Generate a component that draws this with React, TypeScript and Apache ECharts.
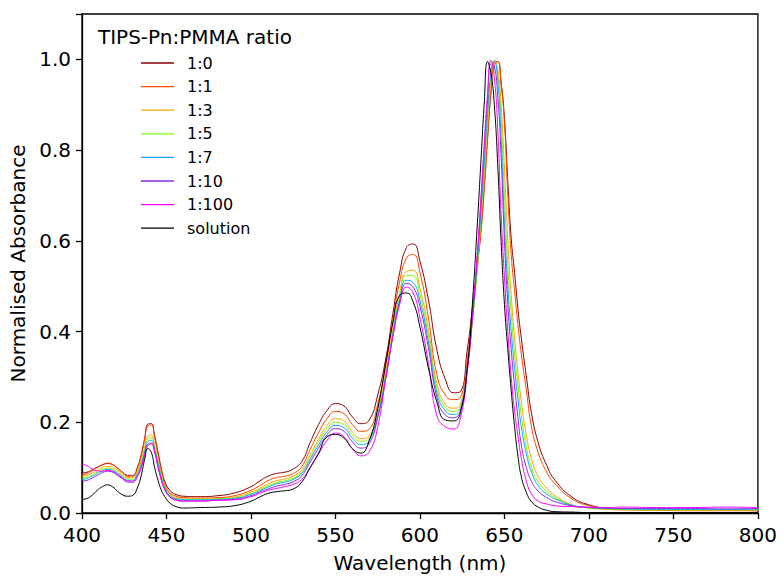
import React, { useEffect, useRef } from "react";
import * as echarts from "echarts";

const wavelengths = [400,403,406,409,412,415,418,421,424,427,430,433,435,437,439,441,443,445,447,449,452,455,460,470,480,490,500,505,510,515,520,525,530,535,540,545,550,555,560,565,570,575,580,584,588,592,596,600,605,610,615,620,624,628,631,634,636,638,640,642,644,646,648,650,652,654,656,658,660,663,666,670,675,680,690,700,710,720,740,760,780,800];

const ratio1to0 = [0.088,0.09,0.095,0.101,0.106,0.109,0.107,0.099,0.09,0.083,
  0.083,0.103,0.128,0.163,0.196,0.197,0.17,0.134,0.097,0.07,
  0.05,0.042,0.037,0.036,0.038,0.044,0.058,0.07,0.081,0.087,
  0.09,0.097,0.113,0.155,0.195,0.226,0.241,0.236,0.212,0.197,
  0.205,0.26,0.345,0.44,0.53,0.585,0.593,0.555,0.47,0.36,
  0.295,0.265,0.268,0.36,0.45,0.55,0.62,0.72,0.83,0.93,
  0.995,0.995,0.95,0.87,0.73,0.605,0.53,0.45,0.385,0.3,
  0.22,0.155,0.105,0.072,0.035,0.018,0.011,0.009,0.007,0.006,
  0.006,0.005];
const ratio1to1 = [0.084,0.087,0.093,0.1,0.106,0.11,0.107,0.099,0.089,0.081,
  0.081,0.1,0.125,0.16,0.192,0.194,0.166,0.129,0.092,0.064,
  0.045,0.038,0.034,0.033,0.034,0.038,0.05,0.06,0.071,0.078,
  0.081,0.087,0.102,0.14,0.177,0.208,0.224,0.219,0.195,0.18,
  0.185,0.24,0.33,0.425,0.51,0.562,0.57,0.53,0.43,0.305,
  0.26,0.25,0.255,0.34,0.44,0.545,0.615,0.71,0.82,0.925,
  0.99,0.995,0.945,0.86,0.7,0.57,0.49,0.415,0.35,0.27,
  0.19,0.133,0.09,0.064,0.031,0.016,0.009,0.007,0.006,0.005,
  0.005,0.005];
const ratio1to3 = [0.081,0.083,0.088,0.094,0.1,0.103,0.101,0.094,0.085,0.078,
  0.078,0.094,0.115,0.145,0.17,0.172,0.15,0.117,0.084,0.06,
  0.042,0.035,0.031,0.031,0.032,0.035,0.046,0.054,0.064,0.071,
  0.075,0.081,0.095,0.128,0.163,0.193,0.208,0.203,0.179,0.164,
  0.17,0.225,0.315,0.405,0.485,0.533,0.535,0.495,0.405,0.285,
  0.24,0.231,0.24,0.325,0.425,0.54,0.64,0.74,0.85,0.95,
  0.998,0.98,0.9,0.76,0.6,0.48,0.385,0.31,0.245,0.17,
  0.12,0.08,0.055,0.038,0.018,0.011,0.008,0.007,0.007,0.006,
  0.006,0.006];
const ratio1to5 = [0.077,0.079,0.084,0.09,0.096,0.099,0.097,0.09,0.082,0.075,
  0.075,0.09,0.11,0.139,0.164,0.166,0.145,0.112,0.08,0.057,
  0.04,0.033,0.03,0.03,0.031,0.033,0.043,0.051,0.06,0.067,
  0.071,0.077,0.09,0.122,0.156,0.186,0.2,0.195,0.172,0.158,
  0.165,0.22,0.31,0.4,0.478,0.524,0.523,0.482,0.39,0.275,
  0.232,0.224,0.235,0.32,0.42,0.545,0.65,0.755,0.865,0.96,
  0.998,0.97,0.875,0.7,0.545,0.44,0.35,0.28,0.215,0.145,
  0.1,0.068,0.048,0.034,0.017,0.011,0.009,0.008,0.007,0.007,
  0.007,0.007];
const ratio1to7 = [0.074,0.076,0.081,0.087,0.093,0.096,0.094,0.087,0.079,0.072,
  0.072,0.087,0.106,0.134,0.158,0.16,0.14,0.108,0.077,0.055,
  0.038,0.032,0.029,0.029,0.03,0.032,0.041,0.049,0.057,0.064,
  0.068,0.074,0.087,0.118,0.15,0.179,0.193,0.188,0.165,0.151,
  0.16,0.215,0.305,0.395,0.47,0.513,0.508,0.468,0.378,0.265,
  0.225,0.217,0.23,0.32,0.425,0.555,0.66,0.77,0.88,0.97,
  0.995,0.955,0.83,0.64,0.5,0.4,0.32,0.25,0.19,0.13,
  0.09,0.06,0.042,0.031,0.017,0.012,0.01,0.009,0.008,0.008,
  0.008,0.008];
const ratio1to10 = [0.07,0.072,0.077,0.083,0.089,0.092,0.09,0.083,0.075,0.068,
  0.068,0.082,0.1,0.128,0.152,0.154,0.135,0.103,0.073,0.052,
  0.036,0.03,0.027,0.027,0.028,0.03,0.038,0.046,0.053,0.059,
  0.063,0.069,0.082,0.112,0.143,0.172,0.186,0.18,0.157,0.143,
  0.153,0.21,0.3,0.39,0.465,0.506,0.498,0.455,0.365,0.255,
  0.216,0.21,0.226,0.32,0.43,0.57,0.68,0.8,0.91,0.99,
  0.985,0.92,0.79,0.6,0.46,0.36,0.28,0.21,0.15,0.1,
  0.07,0.048,0.034,0.025,0.016,0.012,0.011,0.01,0.01,0.01,
  0.009,0.01];
const ratio1to100 = [0.108,0.104,0.097,0.093,0.092,0.094,0.092,0.085,0.077,0.071,
  0.07,0.083,0.1,0.126,0.149,0.152,0.133,0.101,0.072,0.051,
  0.035,0.029,0.026,0.026,0.028,0.029,0.036,0.043,0.05,0.054,
  0.058,0.063,0.074,0.1,0.13,0.16,0.176,0.168,0.142,0.126,
  0.135,0.19,0.305,0.39,0.46,0.498,0.485,0.43,0.33,0.215,
  0.19,0.185,0.21,0.31,0.43,0.575,0.69,0.81,0.925,0.998,
  0.96,0.85,0.66,0.52,0.4,0.3,0.225,0.17,0.12,0.07,
  0.042,0.026,0.02,0.016,0.014,0.013,0.012,0.013,0.012,0.012,
  0.013,0.012];
const solution = [0.03,0.032,0.039,0.05,0.058,0.062,0.058,0.048,0.04,0.037,
  0.039,0.058,0.082,0.117,0.142,0.134,0.1,0.072,0.05,0.036,
  0.022,0.015,0.011,0.012,0.013,0.016,0.026,0.035,0.043,0.047,
  0.049,0.053,0.068,0.1,0.132,0.168,0.173,0.165,0.142,0.132,
  0.16,0.23,0.335,0.42,0.48,0.485,0.465,0.41,0.32,0.245,
  0.205,0.203,0.222,0.32,0.46,0.64,0.77,0.9,0.995,0.97,
  0.9,0.77,0.6,0.46,0.36,0.27,0.19,0.125,0.08,0.045,
  0.025,0.013,0.006,0.003,0.002,0.001,0.001,0.001,0.001,0.001,
  0.001,0.001];

const seriesNames = ["1:0", "1:1", "1:3", "1:5", "1:7", "1:10", "1:100", "solution"];
const seriesValues = [ratio1to0, ratio1to1, ratio1to3, ratio1to5, ratio1to7, ratio1to10, ratio1to100, solution];
const seriesColors = ["#8b0000", "#ff4500", "#ffa500", "#7cfc00", "#10a8ff", "#8a2be2", "#ff00ff", "#000000"];

const xTicks = { min: 400, max: 800, step: 50 };
const yTicks = { min: 0, max: 1.1, step: 0.2 };

const FONT = "DejaVu Sans";

export default function App() {
  const ref = useRef<HTMLDivElement>(null);
  useEffect(() => {
    if (!ref.current) return;
    const chart = echarts.init(ref.current, null, { renderer: "svg" });
    chart.setOption({
      animation: false,
      backgroundColor: "#ffffff",
      textStyle: { fontFamily: FONT },
      grid: { left: 82, top: 14, width: 678, height: 503, show: true, borderColor: "#000", borderWidth: 1.3, backgroundColor: "transparent" },
      graphic: [
        { type: "text", left: 98, top: 27, style: { text: "TIPS-Pn:PMMA ratio", fontSize: 20, fontFamily: FONT, fill: "#000" } },
      ],
      legend: {
        orient: "vertical",
        left: 141,
        top: 55,
        padding: 0,
        icon: "rect",
        itemWidth: 33,
        itemHeight: 1.3,
        itemGap: 7.6,
        data: seriesNames,
        textStyle: { fontSize: 16, fontFamily: FONT, color: "#000", lineHeight: 16, padding: [0, 0, 0, 8] },
      },
      xAxis: {
        type: "value",
        min: xTicks.min,
        max: xTicks.max,
        interval: xTicks.step,
        name: "Wavelength (nm)",
        nameLocation: "middle",
        nameGap: 40,
        nameTextStyle: { fontSize: 20, fontFamily: FONT, color: "#000" },
        axisLine: { show: true, lineStyle: { color: "#000", width: 1.3 } },
        axisTick: { show: true, inside: false, length: 6, lineStyle: { color: "#000", width: 1.3 } },
        axisLabel: { fontSize: 20, fontFamily: FONT, color: "#000", margin: 12 },
        splitLine: { show: false },
      },
      yAxis: {
        type: "value",
        min: yTicks.min,
        max: yTicks.max,
        interval: yTicks.step,
        name: "Normalised Absorbance",
        nameLocation: "middle",
        nameGap: 53,
        nameTextStyle: { fontSize: 20, fontFamily: FONT, color: "#000" },
        axisLine: { show: true, lineStyle: { color: "#000", width: 1.3 } },
        axisTick: { show: true, inside: false, length: 6, lineStyle: { color: "#000", width: 1.3 } },
        axisLabel: {
          fontSize: 20, fontFamily: FONT, color: "#000", margin: 11,
          formatter: (v: number) => (v > 1.05 ? "" : v.toFixed(1)),
        },
        splitLine: { show: false },
      },
      series: seriesNames.map((name, k) => ({
        name,
        type: "line",
        data: wavelengths.map((w, i) => [w, seriesValues[k][i]]),
        symbol: "none",
        smooth: 0.5,
        lineStyle: { color: seriesColors[k], width: 1 },
        itemStyle: { color: seriesColors[k] },
      })),
    });
    return () => chart.dispose();
  }, []);
  return <div ref={ref} style={{ position: "fixed", left: 0, top: 0, width: 780, height: 578 }} />;
}
